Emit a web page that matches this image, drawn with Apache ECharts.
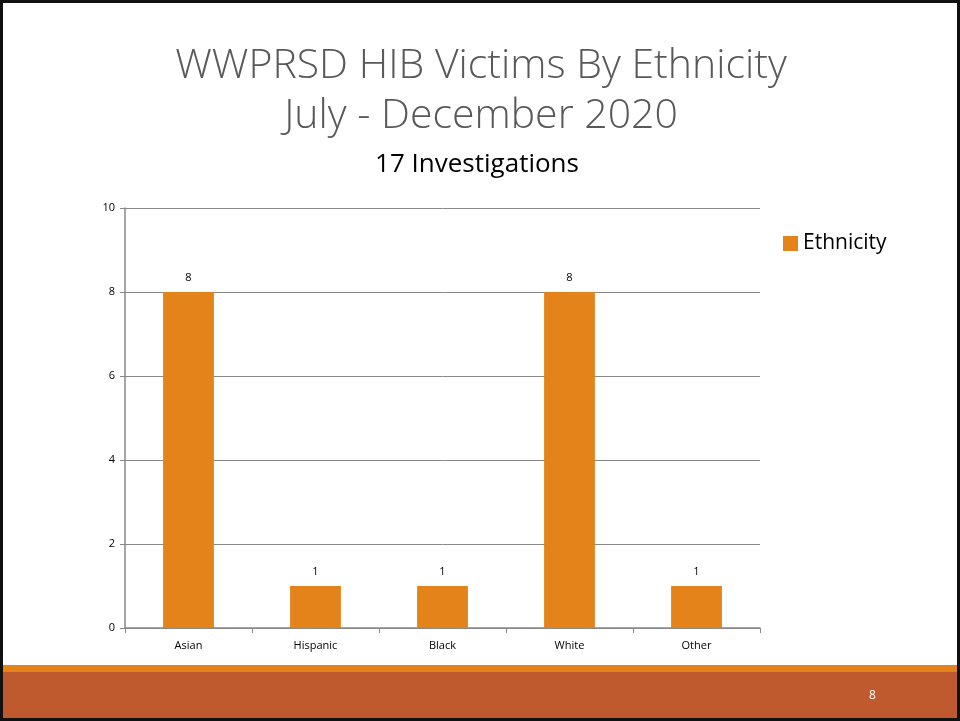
<!DOCTYPE html>
<html>
<head>
<meta charset="utf-8">
<script src="https://cdn.jsdelivr.net/npm/echarts@6/dist/echarts.min.js"></script>
<style>
  html, body { margin: 0; padding: 0; background: #fff; }
  #chart { width: 960px; height: 721px; }
</style>
</head>
<body>
<div id="chart"></div>
<script>
'use strict'

// data
var ethnicities = ['Asian', 'Hispanic', 'Black', 'White', 'Other'];
var victims = [8, 1, 1, 8, 1];
var seriesName = 'Ethnicity';

var dom = document.getElementById('chart');
var chart = echarts.init(dom);
var option;

var barColor = '#E4831A';
var gridColor = '#888888';

option = {
    animation: false,
    backgroundColor: '#fff',
    textStyle: { fontFamily: 'Open Sans, Noto Sans, sans-serif' },
    title: [
        {
            text: 'WWPRSD HIB Victims By Ethnicity\nJuly - December 2020',
            left: 476,
            top: 36,
            textAlign: 'center',
            textStyle: {
                fontSize: 41,
                fontWeight: 300,
                color: '#595959',
                lineHeight: 50
            }
        },
        {
            text: '17 Investigations',
            left: 472,
            top: 147,
            textAlign: 'center',
            textStyle: {
                fontSize: 26,
                fontWeight: 'normal',
                color: '#000'
            }
        }
    ],
    legend: {
        left: 778,
        top: 228,
        icon: 'rect',
        itemWidth: 15,
        itemHeight: 15,
        itemGap: 8,
        textStyle: { fontSize: 21, color: '#000' },
        data: [seriesName]
    },
    grid: {
        left: 125,
        right: 200,
        top: 208,
        bottom: 93,
        containLabel: false
    },
    xAxis: {
        type: 'category',
        data: ethnicities,
        axisLine: { lineStyle: { color: gridColor, width: 1.5 } },
        axisTick: { show: true, alignWithLabel: false, length: 5, lineStyle: { color: gridColor } },
        axisLabel: { fontSize: 11, color: '#000', margin: 12 }
    },
    yAxis: {
        type: 'value',
        min: 0,
        max: 10,
        interval: 2,
        axisLine: { show: true, lineStyle: { color: gridColor, width: 1.5 } },
        axisTick: { show: true, length: 5, lineStyle: { color: gridColor } },
        axisLabel: { fontSize: 11, color: '#000', margin: 10 },
        splitLine: { lineStyle: { color: gridColor, width: 1 } }
    },
    series: [
        {
            name: seriesName,
            type: 'bar',
            data: victims,
            barWidth: '40%',
            itemStyle: { color: barColor },
            label: {
                show: true,
                position: 'top',
                distance: 9,
                fontSize: 11,
                color: '#000'
            }
        }
    ],
    graphic: [
        // footer bands
        { type: 'rect', shape: { x: 0, y: 665, width: 960, height: 8 }, style: { fill: '#E4831A' }, silent: true },
        { type: 'rect', shape: { x: 0, y: 672, width: 960, height: 49 }, style: { fill: '#BE5A2E' }, silent: true },
        {
            type: 'text', left: 869, top: 690,
            style: { text: '8', fill: '#fff', fontSize: 12, fontFamily: 'Open Sans, sans-serif' },
            silent: true
        },
        // slide frame
        {
            type: 'rect', shape: { x: 1.5, y: 1.5, width: 957, height: 718 },
            style: { fill: null, stroke: '#111', lineWidth: 3 }, silent: true, z: 100
        }
    ]
};

if (option && typeof option === 'object') {
    chart.setOption(option);
}
</script>
</body>
</html>
